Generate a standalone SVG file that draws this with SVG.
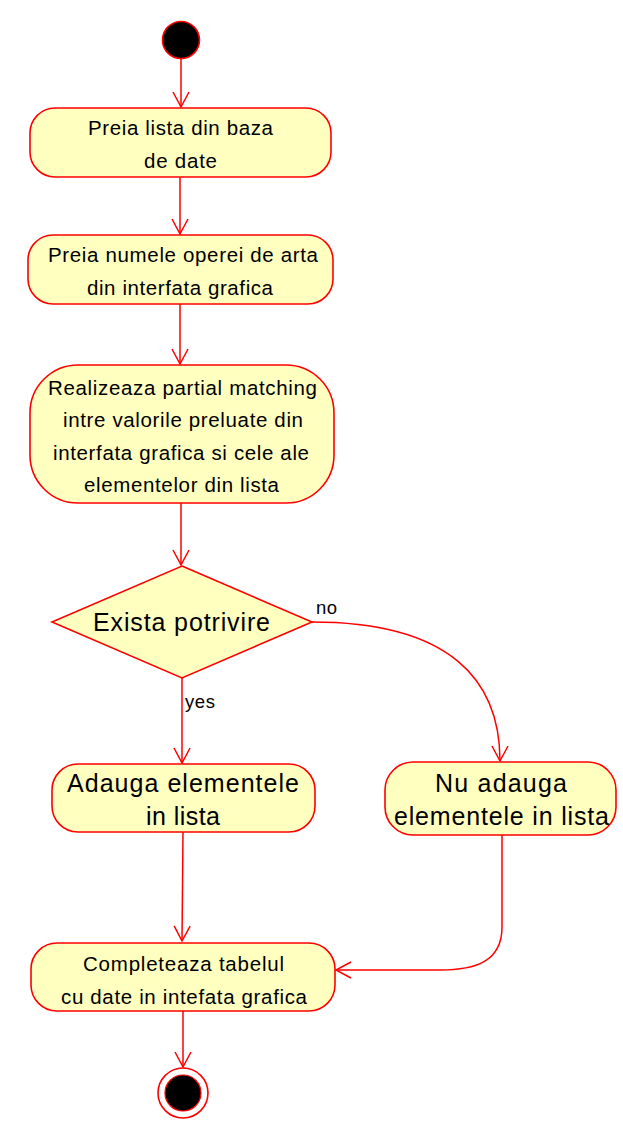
<svg xmlns="http://www.w3.org/2000/svg" width="623" height="1131" viewBox="0 0 623 1131">
<defs>
<style>
.box{fill:#FFFFC0;stroke:#F00;stroke-width:1.6}
.t{font-family:"Liberation Sans",Arial,sans-serif;font-size:20.5px;fill:#000;text-anchor:middle}
.big{font-size:25px}
.lbl{font-family:"Liberation Sans",Arial,sans-serif;font-size:18.5px;fill:#000}
.edge{fill:none;stroke:#F00;stroke-width:1.5}
</style>
<marker id="arr" viewBox="0 0 18 18" refX="16" refY="9" markerWidth="18" markerHeight="18" markerUnits="userSpaceOnUse" orient="auto">
<path d="M1,1 L16,9 L1,17" fill="none" stroke="#F00" stroke-width="1.5"/>
</marker>
</defs>
<rect width="623" height="1131" fill="#fff"/>
<g id="connectors">
<path class="edge" d="M181,59 L181,107" marker-end="url(#arr)"/>
<path class="edge" d="M180,177 L180,234" marker-end="url(#arr)"/>
<path class="edge" d="M180,304 L180,364" marker-end="url(#arr)"/>
<path class="edge" d="M181,503 L181,565" marker-end="url(#arr)"/>
<path class="edge" d="M182,678 L182,763" marker-end="url(#arr)"/>
<path class="edge" d="M312,622 C450,622 500,680 500,761" marker-end="url(#arr)"/>
<path class="edge" d="M183,832 L182,941" marker-end="url(#arr)"/>
<path class="edge" d="M502,835 L502,927 C502,962 475,970 440,970 L336,970" marker-end="url(#arr)"/>
<path class="edge" d="M183,1011 L183,1067" marker-end="url(#arr)"/>
<text class="lbl" x="316" y="614" textLength="21">no</text>
<text class="lbl" x="185" y="708" textLength="30">yes</text>
</g>
<g id="start">
<circle cx="181" cy="40" r="18.5" fill="#000" stroke="#F00" stroke-width="1.6"/>
</g>
<g id="n1">
<rect class="box" x="30" y="108" width="301" height="69" rx="25" ry="25"/>
<text class="t" x="180.5" y="135" textLength="185">Preia lista din baza</text>
<text class="t" x="180.5" y="168" textLength="73">de date</text>
</g>
<g id="n2">
<rect class="box" x="28" y="235" width="305" height="69" rx="25" ry="25"/>
<text class="t" x="183" y="262" textLength="270">Preia numele operei de arta</text>
<text class="t" x="180" y="295" textLength="186">din interfata grafica</text>
</g>
<g id="n3">
<rect class="box" x="30" y="365" width="304" height="138" rx="48" ry="48"/>
<text class="t" x="182.5" y="395" textLength="269">Realizeaza partial matching</text>
<text class="t" x="183" y="427" textLength="240">intre valorile preluate din</text>
<text class="t" x="181" y="460" textLength="256">interfata grafica si cele ale</text>
<text class="t" x="181.5" y="492" textLength="195">elementelor din lista</text>
</g>
<g id="decision">
<polygon class="box" points="182,566 312,622 182,678 52,622"/>
<text class="t big" x="181.5" y="631" textLength="177">Exista potrivire</text>
</g>
<g id="n4">
<rect class="box" x="52" y="764" width="263" height="68" rx="26" ry="26"/>
<text class="t big" x="183" y="792" textLength="232">Adauga elementele</text>
<text class="t big" x="183" y="825" textLength="74">in lista</text>
</g>
<g id="n5">
<rect class="box" x="385" y="762" width="231" height="73" rx="28" ry="28"/>
<text class="t big" x="501" y="792" textLength="132">Nu adauga</text>
<text class="t big" x="501.5" y="825" textLength="215">elementele in lista</text>
</g>
<g id="n6">
<rect class="box" x="31" y="943" width="304" height="68" rx="26" ry="26"/>
<text class="t" x="183.5" y="971" textLength="201">Completeaza tabelul</text>
<text class="t" x="184" y="1004" textLength="246">cu date in intefata grafica</text>
</g>
<g id="end">
<circle cx="183" cy="1093" r="25" fill="#fff" stroke="#F00" stroke-width="1.6"/>
<circle cx="183" cy="1093" r="18" fill="#000" stroke="#F00" stroke-width="1.2"/>
</g>
</svg>
